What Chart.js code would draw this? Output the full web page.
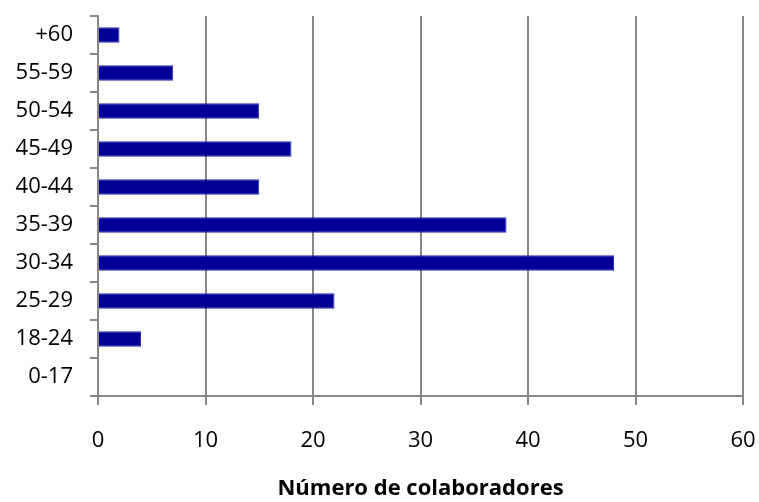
<!DOCTYPE html>
<html lang="es">
<head>
    <meta charset="UTF-8">
    <title>Colaboradores por edad</title>
    <script src="https://cdn.jsdelivr.net/npm/chart.js"></script>
    <style>
        html, body { margin: 0; padding: 0; background: #fff; overflow: hidden; }
        #wrap { width: 759px; height: 502px; }
    </style>
</head>
<body>
    <div id="wrap"><canvas id="edadChart"></canvas></div>
    <script>
        // Franjas de edad (de arriba a abajo) y número de colaboradores
        const franjas = ['+60', '55-59', '50-54', '45-49', '40-44', '35-39', '30-34', '25-29', '18-24', '0-17'];
        const colaboradores = [2, 7, 15, 18, 15, 38, 48, 22, 4, 0];
        const ejeMax = 60;
        const ejePaso = 10;

        const gris = '#878787';

        new Chart(document.getElementById('edadChart'), {
            type: 'bar',
            data: {
                labels: franjas,
                datasets: [{
                    data: colaboradores,
                    backgroundColor: '#000099',
                    borderColor: '#2b2bad',
                    borderWidth: 1,
                    categoryPercentage: 1,
                    barPercentage: 0.41
                }]
            },
            options: {
                indexAxis: 'y',
                responsive: true,
                maintainAspectRatio: false,
                animation: false,
                layout: { padding: { top: 16, right: 16, left: 0, bottom: 0 } },
                plugins: { legend: { display: false }, tooltip: { enabled: false } },
                scales: {
                    x: {
                        min: 0,
                        max: ejeMax,
                        ticks: {
                            stepSize: ejePaso,
                            color: '#000',
                            padding: 23,
                            font: { family: 'Open Sans', size: 22 }
                        },
                        grid: { color: gris, lineWidth: 2, tickLength: 9 },
                        border: { color: gris, width: 2 },
                        title: {
                            display: true,
                            text: 'Número de colaboradores',
                            color: '#000',
                            font: { family: 'Open Sans', size: 22, weight: 'bold' },
                            padding: { top: 12, bottom: 0 }
                        },
                        afterFit: s => {
                            s.height = 106;
                            s.paddingLeft = 0;
                            s.paddingRight = 0;
                        }
                    },
                    y: {
                        ticks: {
                            color: '#000',
                            padding: 17,
                            font: { family: 'Open Sans', size: 22 }
                        },
                        grid: { color: gris, lineWidth: 2, tickLength: 8, drawOnChartArea: false },
                        border: { color: gris, width: 2 },
                        afterFit: s => {
                            s.width = 98;
                            s.paddingTop = 0;
                            s.paddingBottom = 0;
                        }
                    }
                }
            }
        });
    </script>
</body>
</html>
